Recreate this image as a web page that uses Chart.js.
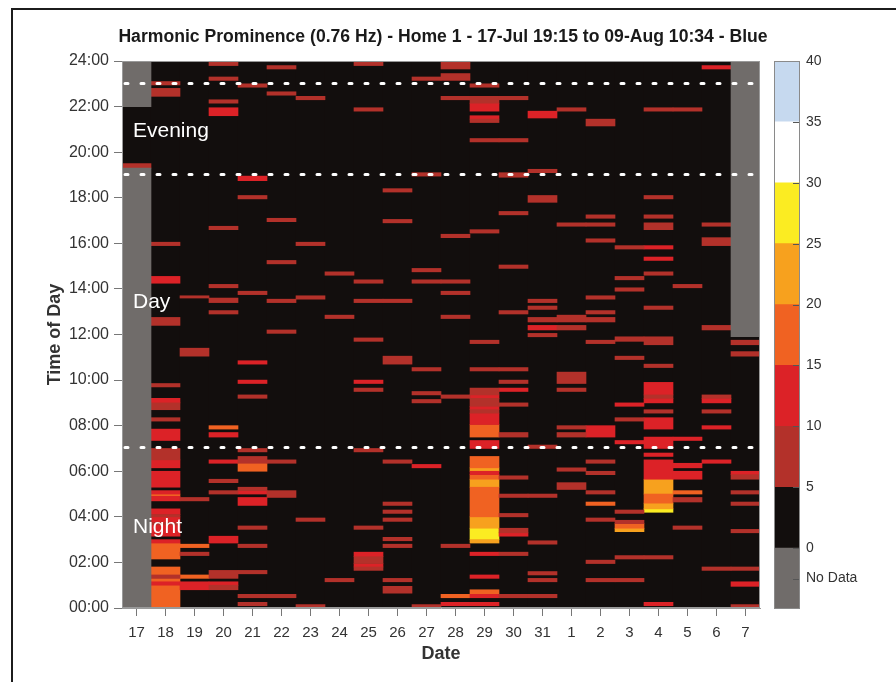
<!DOCTYPE html>
<html>
<head>
<meta charset="utf-8">
<script src="https://cdn.jsdelivr.net/npm/chart.js@4.4.1/dist/chart.umd.min.js"></script>
<style>
  body { margin: 0; background: #fff; }
  #wrap { position: relative; width: 896px; height: 682px; overflow: hidden; }
  #frame { position: absolute; left: 11px; top: 8px; width: 900px; height: 700px;
           border-left: 2px solid #1c1c1c; border-top: 2px solid #1c1c1c; }
  #main { position: absolute; left: 0; top: 0; }
  #bar { position: absolute; left: 774px; top: 0; }
</style>
</head>
<body>
<div id="wrap">
  <div id="frame"></div>
  <canvas id="main" width="886" height="682"></canvas>
  <canvas id="bar" width="122" height="682"></canvas>
</div>
<script>
// one column per day, each entry: [start hour, end hour, prominence]
const dates = ['17','18','19','20','21','22','23','24','25','26','27','28','29','30','31','1','2','3','4','5','6','7'];

const jul17 = [[19.3,19.5,7]];
const jul18 = [[22.95,23.1,7],[22.45,22.8,7],[15.9,16.05,7],[14.25,14.55,12],[12.4,12.75,7],[9.7,9.85,7],[9.0,9.2,12],[8.7,9.0,7],[8.2,8.35,7],[7.35,7.85,12],[6.5,7.0,7],[6.15,6.5,12],[5.3,6.0,12],[5.0,5.15,12],[4.9,5.0,17],[4.7,4.9,12],[4.1,4.35,12],[4.0,4.1,7],[3.75,4.0,12],[3.65,3.75,7],[3.15,3.65,12],[2.85,3.0,12],[2.15,2.85,17],[1.45,1.8,17],[1.3,1.45,7],[1.15,1.3,17],[1.0,1.15,12],[0,1.0,17]];
const jul19 = [[13.6,13.7,7],[11.05,11.4,7],[4.7,4.85,7],[2.65,2.8,17],[2.3,2.45,7],[1.3,1.45,17],[0.8,1.15,12]];
const jul20 = [[23.8,24,7],[23.15,23.3,7],[22.15,22.3,7],[21.6,21.95,12],[16.6,16.75,7],[14.05,14.2,7],[13.4,13.6,7],[12.9,13.05,7],[7.85,8.0,17],[7.5,7.7,12],[6.35,6.5,12],[5.5,5.65,7],[5.0,5.15,7],[2.85,3.15,12],[1.3,1.65,7],[1.0,1.15,12],[0.8,1.0,7]];
const jul21 = [[22.85,23.0,7],[18.75,18.95,12],[17.95,18.1,7],[13.75,13.9,7],[10.7,10.85,12],[9.85,10.0,12],[9.2,9.35,7],[6.85,7.0,7],[6.35,6.65,7],[6.0,6.35,17],[5.15,5.3,7],[5.0,5.15,12],[4.5,4.85,12],[3.45,3.6,7],[2.65,2.8,7],[1.5,1.65,7],[0.45,0.6,7],[0.1,0.25,7]];
const jul22 = [[23.65,23.8,7],[22.5,22.65,7],[16.95,17.1,7],[15.1,15.25,7],[13.4,13.55,7],[12.05,12.2,7],[6.35,6.5,7],[4.85,5.15,7],[0.45,0.6,7]];
const jul23 = [[22.3,22.45,7],[15.9,16.05,7],[13.55,13.7,7],[3.8,3.95,7],[0,0.15,7]];
const jul24 = [[14.6,14.75,7],[12.7,12.85,7],[1.15,1.3,7]];
const jul25 = [[23.8,23.95,7],[21.8,21.95,7],[14.25,14.4,7],[13.4,13.55,7],[11.7,11.85,7],[9.85,10.0,12],[9.5,9.65,7],[6.85,7.0,7],[3.45,3.6,7],[2.25,2.45,12],[1.95,2.25,7],[1.8,1.95,12],[1.65,1.8,7]];
const jul26 = [[18.25,18.4,7],[16.9,17.05,7],[13.4,13.55,7],[10.7,11.05,7],[6.35,6.5,7],[4.5,4.65,7],[4.15,4.3,7],[3.8,3.95,7],[2.95,3.1,7],[2.65,2.8,7],[1.15,1.3,7],[0.65,0.95,7]];
const jul27 = [[23.15,23.3,7],[18.95,19.1,7],[14.75,14.9,7],[14.25,14.4,7],[10.4,10.55,7],[9.35,9.5,7],[9.0,9.15,7],[6.15,6.3,12],[0,0.15,7]];
const jul28 = [[23.65,23.95,7],[23.15,23.45,7],[22.3,22.45,7],[16.25,16.4,7],[14.25,14.4,7],[13.75,13.9,7],[12.7,12.85,7],[9.2,9.35,7],[2.65,2.8,7],[0.45,0.6,17],[0.1,0.25,12]];
const jul29 = [[22.85,23.0,7],[22.15,22.45,7],[21.8,22.15,12],[21.45,21.6,12],[21.3,21.45,7],[20.45,20.6,7],[16.45,16.6,7],[11.6,11.75,7],[10.4,10.55,7],[9.35,9.65,7],[9.2,9.35,12],[8.85,9.2,7],[8.7,8.85,12],[8.55,8.7,7],[8.05,8.55,12],[7.5,8.05,17],[7.0,7.35,12],[6.15,6.65,17],[6.0,6.15,22],[5.85,6.0,12],[5.65,5.85,17],[5.3,5.65,22],[4.0,5.3,17],[3.5,4.0,22],[3.0,3.5,27],[2.85,3.0,22],[2.3,2.45,12],[1.3,1.45,12],[0.6,0.8,17],[0.45,0.6,12],[0.1,0.25,12]];
const jul30 = [[22.3,22.45,7],[20.45,20.6,7],[18.9,19.1,7],[17.25,17.4,7],[14.9,15.05,7],[12.9,13.05,7],[10.4,10.55,7],[9.85,10.0,7],[9.5,9.65,12],[8.85,9.0,7],[7.5,7.7,7],[5.65,5.8,7],[4.85,5.0,7],[4.0,4.15,7],[3.3,3.5,7],[3.15,3.3,12],[2.3,2.45,7],[0.45,0.6,7]];
const jul31 = [[21.5,21.8,12],[19.1,19.25,7],[17.8,18.1,7],[13.4,13.55,7],[13.1,13.25,7],[12.55,12.75,7],[12.2,12.4,12],[11.9,12.05,7],[7.0,7.15,7],[4.85,5.0,7],[2.8,2.95,7],[1.45,1.6,7],[1.15,1.3,7],[0.45,0.6,7]];
const aug1 = [[21.8,21.95,7],[16.75,16.9,7],[12.55,12.85,7],[12.2,12.4,7],[9.85,10.35,7],[9.5,9.65,7],[7.85,8.0,7],[7.5,7.7,7],[6.0,6.15,7],[5.2,5.5,7]];
const aug2 = [[21.15,21.45,7],[17.1,17.25,7],[16.75,16.9,7],[16.05,16.2,7],[13.55,13.7,7],[12.9,13.05,7],[12.55,12.75,7],[11.6,11.75,7],[7.5,8.0,12],[6.35,6.5,7],[5.85,6.0,7],[5.0,5.15,7],[4.5,4.65,17],[3.8,3.95,7],[1.95,2.1,7],[1.15,1.3,7]];
const aug3 = [[15.75,15.9,7],[14.4,14.55,7],[13.9,14.05,7],[11.7,11.9,7],[10.9,11.05,7],[8.85,9.0,12],[8.2,8.35,7],[7.2,7.35,12],[4.15,4.3,7],[3.7,3.85,7],[3.5,3.7,17],[3.35,3.5,22],[2.15,2.3,7],[1.15,1.3,7]];
const aug4 = [[21.8,21.95,7],[17.95,18.1,7],[17.1,17.25,7],[16.6,16.9,7],[15.75,15.9,12],[15.25,15.4,12],[14.6,14.75,7],[13.1,13.25,7],[11.55,11.9,7],[10.55,10.7,7],[9.35,9.9,12],[9.2,9.35,7],[9.0,9.2,12],[8.55,8.7,7],[7.85,8.35,12],[7.0,7.5,12],[6.65,6.8,12],[5.65,6.5,12],[5.0,5.65,22],[4.6,5.0,17],[4.35,4.6,22],[4.2,4.35,27],[2.15,2.3,7],[0.1,0.25,12]];
const aug5 = [[21.8,21.95,7],[14.05,14.2,7],[7.35,7.5,12],[6.15,6.35,12],[5.65,6.0,12],[5.0,5.15,17],[4.65,4.85,7],[3.45,3.6,7]];
const aug6 = [[23.65,23.8,12],[16.75,16.9,7],[15.9,16.25,7],[12.2,12.4,7],[9.2,9.35,7],[9.0,9.2,12],[8.55,8.7,7],[7.85,8.0,12],[6.35,6.5,12],[1.65,1.8,7]];
const aug7 = [[11.55,11.75,7],[11.05,11.25,7],[5.85,6.0,12],[5.65,5.85,7],[5.0,5.15,7],[4.5,4.65,7],[3.3,3.45,7],[1.65,1.8,7],[0.95,1.15,12],[0,0.15,7]];

const columns = [jul17,jul18,jul19,jul20,jul21,jul22,jul23,jul24,jul25,jul26,jul27,jul28,jul29,jul30,jul31,aug1,aug2,aug3,aug4,aug5,aug6,aug7];

// periods with no recording
const gapDates = ['17','17','7'];
const gapRanges = [[0,19.3],[22,24],[11.9,24]];

// colour scale
const bandEdges = [-5,0,5,10,15,20,25,30,35,40];
const bandColors = ['#706c6a','#120e0d','#b3312a','#dc2227','#f06222','#f7a11e','#fbec22','#ffffff','#c6d9ef'];
const scaleTicks = [-2.5,0,5,10,15,20,25,30,35,40];

const splitHours = [7, 19, 23];
const periodNames = ['Night','Day','Evening'];
const periodHours = [3.28, 13.16, 20.67];

const font = 'Liberation Sans, Arial, Helvetica, sans-serif';

function bandOf(v) {
  for (let i = 1; i < bandEdges.length - 1; i++) {
    if (v >= bandEdges[i] && v < bandEdges[i + 1]) return i;
  }
  return bandEdges.length - 2;
}

const barStyle = { grouped: false, categoryPercentage: 1, barPercentage: 1, borderWidth: 0, yAxisID: 'y' };

const datasets = [];
datasets.push(Object.assign({
  label: 'base', order: 2, backgroundColor: bandColors[1],
  data: dates.map(d => ({ x: d, y: [0, 24] }))
}, barStyle));
datasets.push(Object.assign({
  label: 'No Data', order: 1, backgroundColor: bandColors[0],
  data: gapDates.map((d, i) => ({ x: d, y: gapRanges[i] }))
}, barStyle));
for (let b = 2; b < bandColors.length; b++) {
  const pts = [];
  columns.forEach((col, i) => {
    col.forEach(c => { if (bandOf(c[2]) === b) pts.push({ x: dates[i], y: [c[0], c[1]] }); });
  });
  datasets.push(Object.assign({ label: String(bandEdges[b]), order: 1, backgroundColor: bandColors[b], data: pts }, barStyle));
}

const overlay = {
  id: 'overlay',
  afterDatasetsDraw(chart) {
    const { ctx, chartArea: a, scales: { y } } = chart;
    ctx.save();
    ctx.strokeStyle = '#9a9a9a';
    ctx.lineWidth = 1;
    ctx.strokeRect(a.left + 0.5, a.top + 0.5, a.right - a.left - 1, a.bottom - a.top - 1);

    ctx.strokeStyle = '#ffffff';
    ctx.lineWidth = 3;
    ctx.lineCap = 'round';
    ctx.setLineDash([3, 13]);
    splitHours.forEach(h => {
      const py = Math.round(y.getPixelForValue(h)) - 0.5;
      ctx.beginPath();
      ctx.moveTo(a.left + 3, py);
      ctx.lineTo(a.right, py);
      ctx.stroke();
    });
    ctx.setLineDash([]);

    ctx.fillStyle = '#ffffff';
    ctx.font = '21px ' + font;
    ctx.textBaseline = 'alphabetic';
    periodNames.forEach((n, i) => ctx.fillText(n, a.left + 11, y.getPixelForValue(periodHours[i])));
    ctx.restore();
  }
};

new Chart(document.getElementById('main'), {
  type: 'bar',
  data: { labels: dates, datasets: datasets },
  options: {
    responsive: false,
    animation: false,
    layout: { padding: { top: 26.4, left: 0, right: 0, bottom: 0 } },
    plugins: {
      legend: { display: false },
      tooltip: { enabled: false },
      title: {
        display: true,
        text: 'Harmonic Prominence (0.76 Hz) - Home 1 - 17-Jul 19:15 to 09-Aug 10:34 - Blue',
        color: '#1a1a1a',
        font: { family: font, size: 17.6, weight: 'bold' },
        padding: { top: 0, bottom: 13.5 }
      }
    },
    scales: {
      x: {
        grid: { offset: false, drawOnChartArea: false, tickLength: 8, color: '#777' },
        border: { color: '#9a9a9a' },
        ticks: { color: '#333', font: { family: font, size: 15 }, padding: 8, autoSkip: false, maxRotation: 0 },
        title: { display: true, text: 'Date', color: '#333', font: { family: font, size: 18, weight: 'bold' }, padding: { top: 0, bottom: 17 } },
        afterFit: s => { s.height = 74; }
      },
      y: {
        min: 0, max: 24,
        ticks: {
          stepSize: 2, color: '#333', font: { family: font, size: 16 }, padding: 5,
          callback: v => (v < 10 ? '0' : '') + v + ':00'
        },
        grid: { drawOnChartArea: false, tickLength: 8, color: '#777' },
        border: { color: '#9a9a9a' },
        title: { display: true, text: 'Time of Day', color: '#333', font: { family: font, size: 18, weight: 'bold' }, padding: { top: 44, bottom: 0 } },
        afterFit: s => { s.width = 122; }
      },
      y2: {
        position: 'right',
        ticks: { display: false },
        grid: { display: false },
        border: { display: false },
        afterFit: s => { s.width = 126; }
      }
    }
  },
  plugins: [overlay]
});

const barFrame = {
  id: 'barFrame',
  afterDraw(chart) {
    const { ctx, chartArea: a, scales: { y } } = chart;
    ctx.save();
    ctx.strokeStyle = '#555';
    ctx.lineWidth = 1;
    y.ticks.forEach(t => {
      const py = Math.round(y.getPixelForValue(t.value)) + 0.5;
      ctx.beginPath();
      ctx.moveTo(a.right - 7, py);
      ctx.lineTo(a.right, py);
      ctx.stroke();
    });
    ctx.strokeStyle = '#8a8a8a';
    ctx.strokeRect(a.left + 0.5, a.top + 0.5, a.right - a.left - 1, a.bottom - a.top - 1);
    ctx.restore();
  }
};

new Chart(document.getElementById('bar'), {
  type: 'bar',
  data: {
    labels: ['scale'],
    datasets: bandColors.map((c, i) => ({
      data: [[bandEdges[i], bandEdges[i + 1]]],
      backgroundColor: c, grouped: false, categoryPercentage: 1, barPercentage: 1, borderWidth: 0
    }))
  },
  options: {
    responsive: false,
    animation: false,
    layout: { padding: { top: 61, bottom: 73, left: 0, right: 0 } },
    plugins: { legend: { display: false }, tooltip: { enabled: false } },
    scales: {
      x: { display: false },
      y: {
        position: 'right', min: -5, max: 40,
        afterBuildTicks: s => { s.ticks = scaleTicks.map(v => ({ value: v })); },
        ticks: { color: '#333', font: { family: font, size: 14 }, padding: 6,
                 callback: v => v === -2.5 ? 'No Data' : v },
        grid: { display: false, drawTicks: false },
        border: { display: false },
        afterFit: s => { s.width = 96; }
      }
    }
  },
  plugins: [barFrame]
});
</script>
</body>
</html>
